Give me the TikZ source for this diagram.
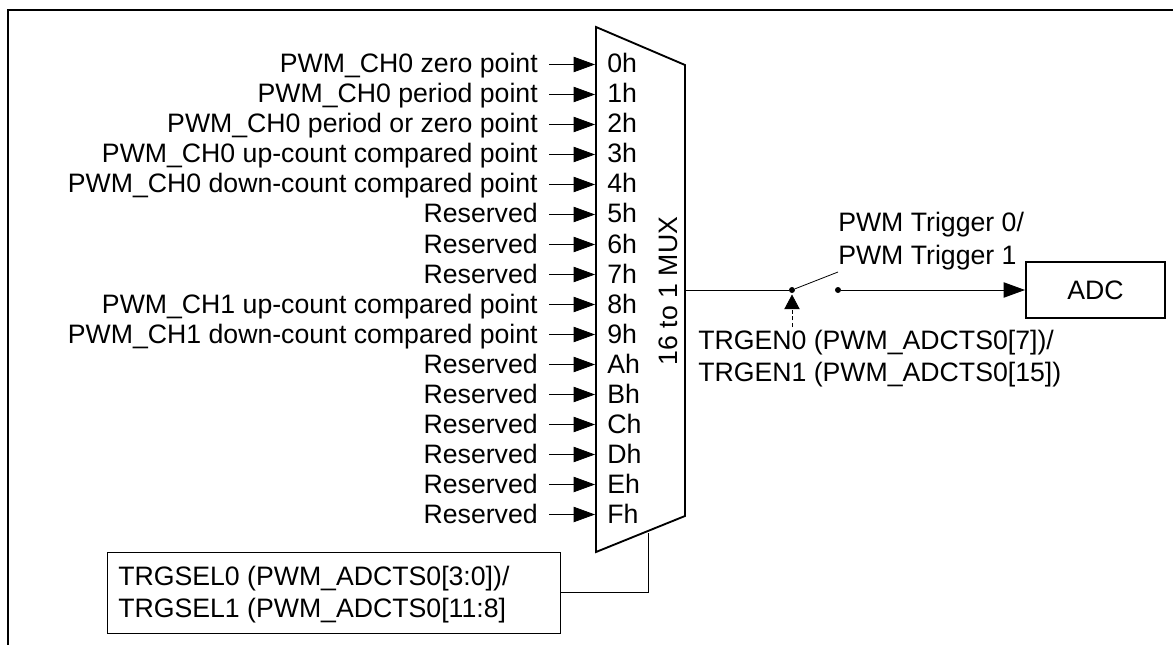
\documentclass[tikz,border=0pt]{standalone}
\usepackage{fontspec}
\setmainfont{Liberation Sans}
\usetikzlibrary{arrows.meta}

\tikzset{
  lab/.style={inner sep=0pt, anchor=base east, font=\fontsize{20pt}{24pt}\selectfont},
  chan/.style={inner sep=0pt, anchor=base west, font=\fontsize{20pt}{24pt}\selectfont},
  txt/.style={inner sep=0pt, anchor=base west, font=\fontsize{20pt}{24pt}\selectfont},
  arr/.style={-{Triangle[length=16pt,width=11.5pt]}, line width=0.6pt},
  dot/.style={circle, fill=black, inner sep=0pt, minimum size=4.5pt},
  frameline/.style={line width=1.5pt},
}

\begin{document}
\begin{tikzpicture}[x=0.75pt,y=-0.75pt]
  \useasboundingbox (0,0) rectangle (1173,645);
  % outer frame
  \draw[frameline] (8,645) -- (8,10) -- (1173,10);

  % mux body
  \draw[line width=1.4pt] (596,27) -- (685,65) -- (685,516) -- (596,552) -- cycle;
  \node[rotate=90, anchor=base, font=\fontsize{20pt}{24pt}\selectfont, inner sep=0pt] (muxname) at (677,291) {16 to 1 MUX};

  % inputs
  \foreach \r/\lab/\c in {
    0/PWM\_CH0 zero point/0h,
    1/PWM\_CH0 period point/1h,
    2/PWM\_CH0 period or zero point/2h,
    3/PWM\_CH0 up-count compared point/3h,
    4/PWM\_CH0 down-count compared point/4h,
    5/Reserved/5h,
    6/Reserved/6h,
    7/Reserved/7h,
    8/PWM\_CH1 up-count compared point/8h,
    9/PWM\_CH1 down-count compared point/9h,
    10/Reserved/Ah,
    11/Reserved/Bh,
    12/Reserved/Ch,
    13/Reserved/Dh,
    14/Reserved/Eh,
    15/Reserved/Fh} {
    \node[lab] (in\r) at (538,73+\r*30) {\lab};
    \node[chan] (ch\r) at (607,73+\r*30) {\c};
    \coordinate (from\r) at (549,64.5+\r*30);
    \coordinate (to\r) at (595,64.5+\r*30);
    \draw[arr] (from\r) -- (to\r);
  }

  % output and switch
  \coordinate (muxout) at (685,290);
  \node[dot] (swa) at (792,290) {};
  \node[dot] (swb) at (838,290) {};
  \coordinate (swtip) at (838,272);
  \draw[line width=0.6pt] (muxout) -- (swa);
  \draw[line width=0.6pt] (swa) -- (swtip);
  \node[draw, line width=1.3pt, minimum width=104.5pt, minimum height=41.5pt, inner sep=0pt, font=\fontsize{20pt}{24pt}\selectfont] (adc) at (1095.5,290) {ADC};
  \draw[arr] (swb) -- (adc.west |- swb);

  \node[txt] (trig0) at (838,232) {PWM Trigger 0/};
  \node[txt] (trig1) at (838,264) {PWM Trigger 1};

  % enable
  \node[txt] (gen0) at (698,349) {TRGEN0 (PWM\_ADCTS0[7])/};
  \node[txt] (gen1) at (698,381) {TRGEN1 (PWM\_ADCTS0[15])};
  \coordinate (genfrom) at (792,327);
  \coordinate (gentip) at (792,294.5);
  \draw[-{Triangle[length=11pt,width=11.5pt]}, line width=0.6pt, dash pattern=on 3pt off 2pt] (genfrom) -- (gentip);

  % select box
  \node[draw, line width=0.75pt, anchor=north west, minimum width=340pt, minimum height=60.5pt, inner sep=0pt] (selbox) at (107,552) {};
  \node[txt] (sel0) at (118,585) {TRGSEL0 (PWM\_ADCTS0[3:0])/};
  \node[txt] (sel1) at (118,617) {TRGSEL1 (PWM\_ADCTS0[11:8]};
  \coordinate (muxsel) at (648,533);
  \draw[line width=0.6pt] (muxsel) |- (selbox.east);
\end{tikzpicture}
\end{document}
